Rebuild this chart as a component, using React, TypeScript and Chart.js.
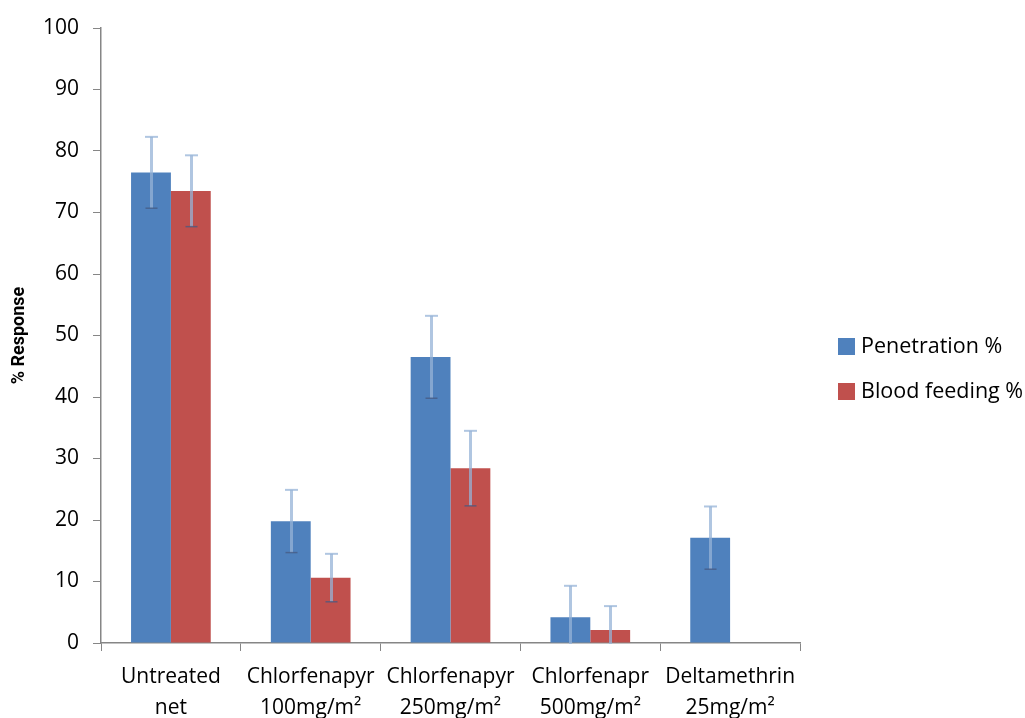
import React, { useEffect, useRef } from "react";
import { Chart, registerables } from "chart.js";

Chart.register(...registerables);

const categories: string[][] = [
  ["Untreated", "net"],
  ["Chlorfenapyr", "100mg/m²"],
  ["Chlorfenapyr", "250mg/m²"],
  ["Chlorfenapr", "500mg/m²"],
  ["Deltamethrin", "25mg/m²"],
];
const penetration = [76.5, 19.8, 46.5, 4.2, 17.1];
const penetrationErr = [5.8, 5.1, 6.7, 5.1, 5.1];
const bloodFeeding = [73.5, 10.6, 28.4, 2.1, 0];
const bloodFeedingErr = [5.8, 3.9, 6.1, 3.9, 0];
const seriesLabels = ["Penetration %", "Blood feeding %"];
const seriesColors = ["#4F81BD", "#C0504D"];
const errors = [penetrationErr, bloodFeedingErr];

const AXIS = "#868686";
const FONT = "'Open Sans', 'Liberation Sans', sans-serif";

const errorBarPlugin = {
  id: "errorBars",
  afterDatasetsDraw(chart: any) {
    const ctx = chart.ctx;
    const y = chart.scales.y;
    const area = chart.chartArea;
    ctx.save();
    ctx.beginPath();
    ctx.rect(area.left, area.top, area.right - area.left, area.bottom - area.top + 1);
    ctx.clip();
    chart.data.datasets.forEach((ds: any, i: number) => {
      const meta = chart.getDatasetMeta(i);
      meta.data.forEach((el: any, j: number) => {
        const v = ds.data[j];
        const e = errors[i][j];
        if (!e) return;
        const yu = y.getPixelForValue(v + e);
        const yl = y.getPixelForValue(v - e);
        const x = Math.round(el.x) + 0.5;
        ctx.strokeStyle = "rgba(149,179,215,0.75)";
        ctx.lineWidth = 3;
        ctx.beginPath();
        ctx.moveTo(x, yl);
        ctx.lineTo(x, yu);
        ctx.stroke();
        ctx.lineWidth = 2;
        ctx.beginPath();
        ctx.moveTo(x - 6.5, yu);
        ctx.lineTo(x + 6.5, yu);
        ctx.stroke();
        ctx.strokeStyle = "rgba(70,90,130,0.75)";
        ctx.lineWidth = 1.5;
        ctx.beginPath();
        ctx.moveTo(x - 6, yl);
        ctx.lineTo(x + 6, yl);
        ctx.stroke();
      });
    });
    ctx.restore();
  },
};

const legendPlugin = {
  id: "customLegend",
  afterDraw(chart: any) {
    const ctx = chart.ctx;
    ctx.save();
    ctx.font = `21.5px ${FONT}`;
    ctx.textBaseline = "middle";
    ctx.textAlign = "left";
    seriesLabels.forEach((label, i) => {
      const cy = 347 + i * 45;
      ctx.fillStyle = seriesColors[i];
      ctx.fillRect(838, cy - 9, 17, 17);
      ctx.fillStyle = "#000";
      ctx.fillText(label, 861, cy);
    });
    ctx.restore();
  },
};

export default function App() {
  const ref = useRef<HTMLCanvasElement>(null);
  useEffect(() => {
    if (!ref.current) return;
    const chart = new Chart(ref.current, {
      type: "bar",
      data: {
        labels: categories,
        datasets: [
          { label: seriesLabels[0], data: penetration, backgroundColor: seriesColors[0] },
          { label: seriesLabels[1], data: bloodFeeding, backgroundColor: seriesColors[1] },
        ],
      },
      options: {
        animation: false,
        responsive: true,
        maintainAspectRatio: false,
        layout: { padding: { top: 28, right: 225, bottom: 0, left: 0 } },
        datasets: { bar: { categoryPercentage: 0.57, barPercentage: 1 } },
        plugins: { legend: { display: false }, tooltip: { enabled: false } },
        scales: {
          x: {
            offset: true,
            grid: {
              offset: true,
              drawOnChartArea: false,
              drawTicks: true,
              tickLength: 8,
              color: AXIS,
            },
            border: { color: AXIS, width: 1.5 },
            ticks: {
              color: "#000",
              font: { family: FONT, size: 21, lineHeight: 1.45 },
              padding: 11,
              maxRotation: 0,
              autoSkip: false,
            },
            afterFit(scale: any) {
              scale.height = 75;
            },
          },
          y: {
            min: 0,
            max: 100,
            ticks: {
              stepSize: 10,
              color: "#000",
              font: { family: FONT, size: 21 },
              padding: 14,
            },
            grid: {
              drawOnChartArea: false,
              drawTicks: true,
              tickLength: 8,
              color: AXIS,
            },
            border: { color: AXIS, width: 1.5 },
            title: {
              display: true,
              text: "% Response",
              color: "#000",
              font: { family: "Roboto, 'Liberation Sans', sans-serif", size: 18, weight: "bold" },
              padding: { top: 9, bottom: 0 },
            },
            afterFit(scale: any) {
              scale.width = 101;
            },
          },
        },
      },
      plugins: [errorBarPlugin, legendPlugin],
    } as any);
    return () => chart.destroy();
  }, []);
  return (
    <div style={{ position: "fixed", left: 0, top: 0, width: 1025, height: 718, background: "#fff" }}>
      <canvas ref={ref} />
    </div>
  );
}
